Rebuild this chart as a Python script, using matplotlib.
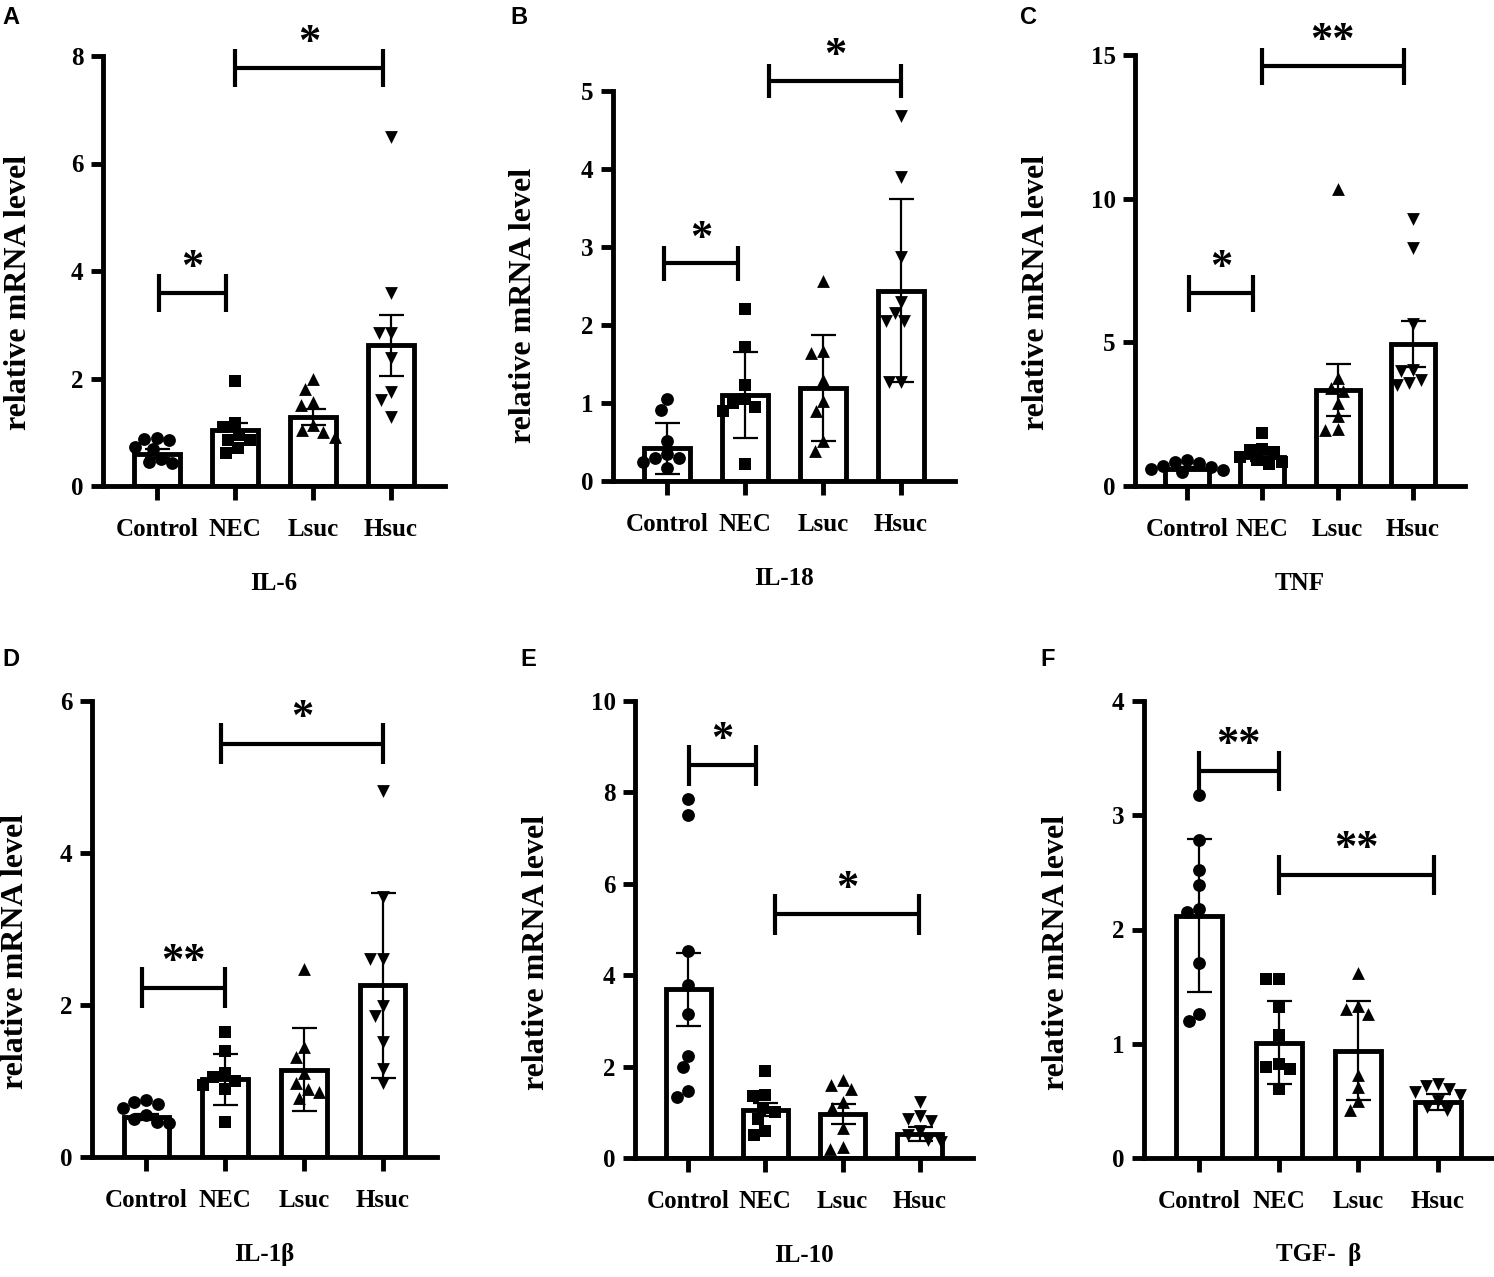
import numpy as np
import matplotlib.pyplot as plt

plt.rcParams['font.family'] = ['Liberation Serif', 'DejaVu Serif']
plt.rcParams['font.weight'] = 'bold'

groups = ['Control', 'NEC', 'Lsuc', 'Hsuc']
markers = ['o', 's', '^', 'v']

# IL-6
il6_mean = [0.60, 1.05, 1.28, 2.62]
il6_err = [0.08, 0.12, 0.15, 0.57]
il6_pts = [[0.90, 0.88, 0.85, 0.72, 0.68, 0.50, 0.45, 0.42],
           [1.96, 1.17, 1.10, 0.95, 0.85, 0.85, 0.71, 0.62],
           [1.99, 1.81, 1.56, 1.50, 1.14, 1.05, 1.00, 0.92],
           [6.50, 3.59, 2.84, 2.84, 2.38, 1.74, 1.60, 1.28]]
il6_brackets = [(0.03, 0.88, 3.59, '*'), (1.0, 2.9, 7.77, '*')]

# IL-18
il18_mean = [0.42, 1.10, 1.19, 2.44]
il18_err = [0.33, 0.55, 0.68, 1.17]
il18_pts = [[1.05, 0.91, 0.51, 0.34, 0.30, 0.25, 0.30, 0.17],
            [2.20, 1.72, 1.23, 1.05, 1.00, 0.95, 0.90, 0.22],
            [2.57, 1.67, 1.64, 1.30, 1.03, 0.90, 0.51, 0.39],
            [4.68, 3.90, 2.87, 2.30, 2.16, 2.05, 2.05, 1.27, 1.27]]
il18_brackets = [(-0.04, 0.91, 2.79, '*'), (1.31, 3.0, 5.13, '*')]

# TNF
tnf_mean = [0.60, 1.00, 3.33, 4.93]
tnf_err = [0.05, 0.12, 0.90, 0.80]
tnf_pts = [[0.90, 0.85, 0.80, 0.70, 0.65, 0.60, 0.55, 0.50],
           [1.84, 1.30, 1.25, 1.20, 1.00, 0.90, 0.85, 0.75],
           [10.35, 3.77, 3.40, 3.30, 2.90, 2.45, 1.97, 1.95],
           [9.30, 8.27, 5.64, 4.04, 4.00, 3.57, 3.70, 3.50]]
tnf_brackets = [(0.03, 0.88, 6.7, '*'), (0.99, 2.88, 14.6, '**')]

# IL-1b
il1b_mean = [0.53, 1.02, 1.15, 2.26]
il1b_err = [0.04, 0.33, 0.55, 1.22]
il1b_pts = [[0.73, 0.75, 0.70, 0.65, 0.55, 0.50, 0.46, 0.45],
            [1.65, 1.40, 1.10, 1.05, 1.00, 0.95, 0.89, 0.46],
            [2.48, 1.45, 1.32, 1.10, 0.97, 0.85, 0.78, 0.90],
            [4.82, 3.42, 2.61, 2.61, 1.99, 1.86, 1.51, 1.16, 0.97]]
il1b_brackets = [(-0.06, 1.0, 2.23, '**'), (0.95, 3.0, 5.44, '*')]

# IL-10
il10_mean = [3.69, 1.06, 0.97, 0.52]
il10_err = [0.80, 0.15, 0.22, 0.15]
il10_pts = [[7.85, 7.51, 4.54, 3.78, 3.16, 2.24, 1.99, 1.46, 1.34],
            [1.90, 1.37, 1.35, 1.10, 1.00, 0.85, 0.60, 0.50],
            [1.70, 1.60, 1.50, 1.23, 1.10, 0.65, 0.25, 0.20],
            [1.23, 0.92, 0.85, 0.80, 0.60, 0.50, 0.40, 0.35]]
il10_brackets = [(0.01, 0.88, 8.59, '*'), (1.12, 2.99, 5.33, '*')]

# TGF-b
tgfb_mean = [2.12, 1.01, 0.94, 0.49]
tgfb_err = [0.67, 0.36, 0.43, 0.07]
tgfb_pts = [[3.18, 2.78, 2.52, 2.39, 2.18, 2.15, 1.71, 1.26, 1.20],
            [1.57, 1.57, 1.32, 1.08, 0.82, 0.80, 0.78, 0.60],
            [1.62, 1.33, 1.30, 1.26, 0.73, 0.62, 0.42, 0.50],
            [0.65, 0.63, 0.60, 0.58, 0.55, 0.50, 0.45, 0.42]]
tgfb_brackets = [(0.0, 1.0, 3.39, '**'), (1.0, 2.95, 2.48, '**')]

panels = [
    ('A', 'IL-6', 8, 2, il6_mean, il6_err, il6_pts, il6_brackets),
    ('B', 'IL-18', 5, 1, il18_mean, il18_err, il18_pts, il18_brackets),
    ('C', 'TNF', 15, 5, tnf_mean, tnf_err, tnf_pts, tnf_brackets),
    ('D', 'IL-1β', 6, 2, il1b_mean, il1b_err, il1b_pts, il1b_brackets),
    ('E', 'IL-10', 10, 2, il10_mean, il10_err, il10_pts, il10_brackets),
    ('F', 'TGF-  β', 4, 1, tgfb_mean, tgfb_err, tgfb_pts, tgfb_brackets),
]

# layout in pixels: axis left, top, right, bottom, ylabel right edge x, letter x, letter y
W, H = 1494, 1277
boxes = [(103, 56, 445, 486, 33, 2, 6),
         (613, 91, 955, 481, 538, 510, 6),
         (1135, 55, 1465, 486, 1051, 1020, 6),
         (92, 701, 437, 1157, 30, 2, 648),
         (635, 701, 973, 1158, 551, 520, 648),
         (1144, 701, 1493, 1158, 1071, 1040, 648)]


def swarm(vals, px_x, px_y, diam):
    placed = []
    offs = np.zeros(len(vals))
    for i in np.argsort(vals)[::-1]:
        y = vals[i] * px_y
        cands = [0.0]
        for xj, yj in placed:
            dy = y - yj
            if abs(dy) < diam:
                dx = np.sqrt(diam ** 2 - dy ** 2)
                cands += [xj + dx, xj - dx]
        cands.sort(key=lambda c: (round(abs(c), 3), c))
        for c in cands:
            if all((c - xj) ** 2 + (y - yj) ** 2 >= diam ** 2 - 1e-6 for xj, yj in placed):
                break
        placed.append((c, y))
        offs[i] = c / px_x
    return offs


fig = plt.figure(figsize=(W / 100, H / 100), dpi=100)
xlo, xhi = -0.69, 3.69
x = np.arange(len(groups))

for (letter, gene, ymax, step, means, errs, pts, brackets), box in zip(panels, boxes):
    l, t, r, b, ylx, lx, ly = box
    ax = fig.add_axes([l / W, 1 - b / H, (r - l) / W, (b - t) / H])
    px_x = (r - l) / (xhi - xlo)
    px_y = (b - t) / ymax

    ax.bar(x, means, width=0.58, color='white', edgecolor='black', linewidth=3.5, zorder=1)
    for i, vals in enumerate(pts):
        vals = np.array(vals)
        offs = swarm(vals, px_x, px_y, 12.5)
        ax.scatter(x[i] + offs, vals, marker=markers[i], s=85 if markers[i] != 's' else 70,
                   color='black', linewidths=0, zorder=2, clip_on=False)
    ax.errorbar(x, means, yerr=errs, fmt='none', ecolor='black', elinewidth=1.6,
                capsize=9, capthick=1.6, zorder=3)

    h = 0.044 * ymax
    for x1, x2, yb, lab in brackets:
        ax.plot([x1, x2], [yb, yb], color='black', lw=3, clip_on=False, solid_capstyle='butt')
        for xe in (x1, x2):
            ax.plot([xe, xe], [yb - h, yb + h], color='black', lw=3, clip_on=False,
                    solid_capstyle='butt')
        ax.text((x1 + x2) / 2, yb + 0.012 * ymax, lab, ha='center', va='bottom',
                fontsize=32, fontweight='bold', clip_on=False)

    ax.set_xlim(xlo, xhi)
    ax.set_ylim(0, ymax)
    ax.set_yticks(np.arange(0, ymax + step / 2, step))
    ax.set_xticks(x)
    ax.set_xticklabels(groups)
    for s in ('top', 'right'):
        ax.spines[s].set_visible(False)
    for s in ('left', 'bottom'):
        ax.spines[s].set_linewidth(3.5)
    ax.tick_params(axis='x', length=10, width=3.5, pad=13, labelsize=18)
    ax.tick_params(axis='y', length=9, width=3.5, pad=5, labelsize=18)
    ax.set_xlabel(gene, fontsize=18, fontweight='bold', labelpad=22)
    ax.set_ylabel('relative mRNA level', fontsize=23, fontweight='bold')
    ax.yaxis.set_label_coords((ylx - l) / (r - l), 0.45)
    ax.patch.set_visible(False)

    fig.text(lx / W, 1 - ly / H, letter, ha='left', va='top', fontsize=17,
             fontweight='bold', family=['Liberation Sans', 'DejaVu Sans'])

fig.savefig('out.png', dpi=100)
